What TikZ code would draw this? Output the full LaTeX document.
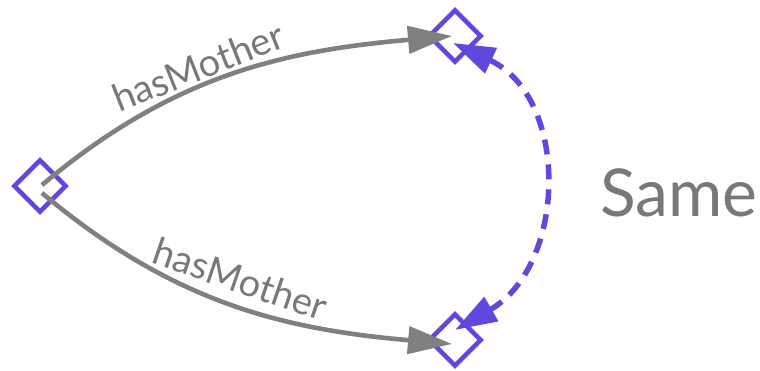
\documentclass[tikz,border=0pt]{standalone}
\usepackage{fontspec}
\setmainfont{Lato}
\usetikzlibrary{arrows.meta,shapes.geometric}
\definecolor{owlpurple}{RGB}{94,72,224}
\definecolor{relgray}{RGB}{128,128,128}
\definecolor{txtgray}{RGB}{120,120,120}

\begin{document}
\begin{tikzpicture}[
  x=1pt,y=1pt,
  dia/.style={diamond,draw=owlpurple,line width=4.6pt,fill=none,
              minimum width=53pt,minimum height=53pt,inner sep=0pt,aspect=1},
  rel/.style={draw=relgray,line width=4.6pt,
              -{Triangle[length=44pt,width=27pt]}},
  same/.style={draw=owlpurple,line width=5.5pt,dash pattern=on 15pt off 10pt,
               {Triangle[length=42pt,width=27pt]}-{Triangle[length=42pt,width=27pt]}},
  lbl/.style={text=txtgray,font=\fontsize{38}{42}\selectfont,inner sep=2pt}
]
\useasboundingbox (0,0) rectangle (760,370);
\node[dia] (kid) at (40,184) {};
\node[dia] (mom1) at (455,334) {};
\node[dia] (mom2) at (455,30) {};
\node[lbl,font=\fontsize{66}{70}\selectfont] (same) at (679,177) {Same};
\coordinate (k1) at ([shift={(2,1)}]kid.center);
\coordinate (k2) at ([shift={(2,-7)}]kid.center);
\coordinate (m1) at ([shift={(-3,0)}]mom1.center);
\coordinate (m2) at ([shift={(-3,-4)}]mom2.center);
\coordinate (s1) at ([shift={(-2,-7)}]mom1.center);
\coordinate (s2) at ([shift={(0,10)}]mom2.center);
\draw[rel] (k1) to[out=40,in=185] node[lbl,sloped,above=1pt,pos=0.43] (hm1) {hasMother} (m1);
\draw[rel] (k2) to[out=-40,in=175] node[lbl,sloped,above=8pt,pos=0.5] (hm2) {hasMother} (m2);
\draw[same] (s1) to[out=-25,in=30,looseness=1.15] (s2);
\end{tikzpicture}
\end{document}
